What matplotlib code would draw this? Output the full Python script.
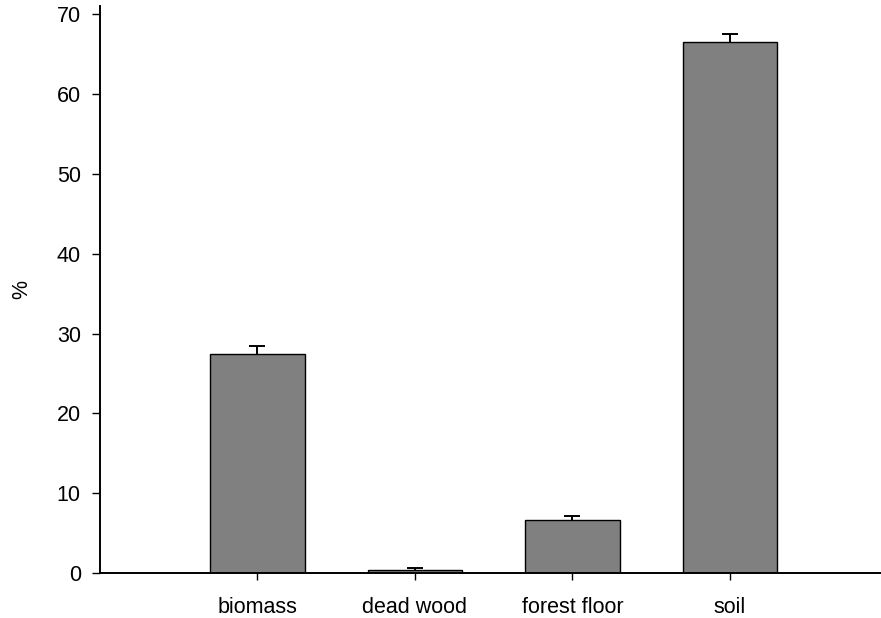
import numpy as np
import matplotlib.pyplot as plt

plt.rcParams['font.family'] = ['Liberation Sans', 'DejaVu Sans']

# carbon stock share per compartment (%), with upper error
pools = ['biomass', 'dead wood', 'forest floor', 'soil']
share = [27.4, 0.4, 6.6, 66.5]
err_up = [1.1, 0.2, 0.6, 1.1]

fig = plt.figure(figsize=(8.81, 6.18), dpi=100)
ax = fig.add_axes([0.1135, 0.0728, 0.8865, 0.9168])

x = np.arange(len(pools))
ax.bar(x, share, width=0.6, color='#808080', edgecolor='black', linewidth=1.0)

# one-sided error bars: hide the cap at the bar top
eb = ax.errorbar(x, share, yerr=[np.zeros(len(err_up)), err_up], fmt='none',
                 ecolor='black', elinewidth=1.4, capsize=5.8, capthick=1.4)
eb[1][0].set_visible(False)

ax.set_xlim(-1.0, 3.96)
ax.set_ylim(0, 71)
ax.set_yticks(np.arange(0, 71, 10))
ax.set_xticks(x)
ax.set_xticklabels(pools)

for s in ['top', 'right']:
    ax.spines[s].set_visible(False)
for s in ['left', 'bottom']:
    ax.spines[s].set_linewidth(1.4)

ax.tick_params(axis='y', direction='out', length=5.8, width=1.0, pad=8, labelsize=15.5)
ax.tick_params(axis='x', direction='out', length=5.0, width=1.0, pad=12, labelsize=15.5)

ax.set_ylabel('%', fontsize=15.5)
ax.yaxis.set_label_coords(-0.087, 0.5)

fig.savefig('out.png', dpi=100)
